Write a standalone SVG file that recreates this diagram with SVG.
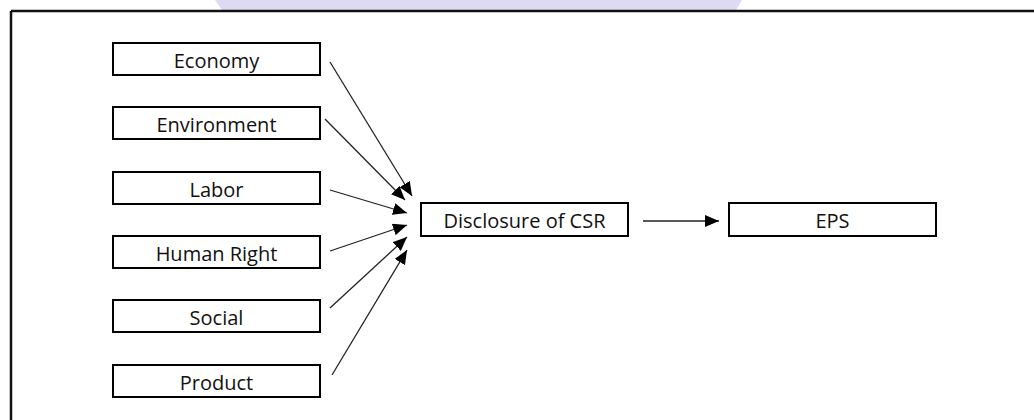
<svg xmlns="http://www.w3.org/2000/svg" width="1034" height="420" viewBox="0 0 1034 420">
<style>
.box{fill:#fff;stroke:#000;stroke-width:2}
.lbl{font-family:"Open Sans","Liberation Sans",sans-serif;font-size:20px;fill:#111;text-anchor:middle}
.conn{stroke:#222;stroke-width:1.3;fill:none}
</style>
<defs>
<marker id="ah" markerUnits="userSpaceOnUse" markerWidth="15" markerHeight="12" refX="14" refY="6" orient="auto">
<path d="M0,0 L14,6 L0,12 Z" fill="#000"/>
</marker>
</defs>
<rect width="1034" height="420" fill="#fff"/>
<g id="watermark">
<polygon points="215,0 742,0 736,10 222,10" fill="#dedaf3"/>
</g>
<g id="frame">
<line x1="11" y1="11" x2="1034" y2="11" stroke="#111" stroke-width="2.5"/>
<line x1="11" y1="11" x2="11" y2="420" stroke="#111" stroke-width="2.5"/>
</g>
<g id="connectors">
<line class="conn" x1="330" y1="62" x2="412" y2="196" marker-end="url(#ah)"/>
<line class="conn" x1="325" y1="119" x2="405" y2="200" marker-end="url(#ah)"/>
<line class="conn" x1="330" y1="190" x2="407" y2="213" marker-end="url(#ah)"/>
<line class="conn" x1="330" y1="251" x2="407" y2="225" marker-end="url(#ah)"/>
<line class="conn" x1="330" y1="308" x2="407" y2="237" marker-end="url(#ah)"/>
<line class="conn" x1="332" y1="375" x2="407" y2="250" marker-end="url(#ah)"/>
<line class="conn" x1="643" y1="221" x2="719" y2="221" marker-end="url(#ah)"/>
</g>
<g id="economy"><rect class="box" x="113" y="43" width="207" height="32"/><text class="lbl" x="216.5" y="68">Economy</text></g>
<g id="environment"><rect class="box" x="113" y="107" width="207" height="32"/><text class="lbl" x="216.5" y="132">Environment</text></g>
<g id="labor"><rect class="box" x="113" y="172" width="207" height="32"/><text class="lbl" x="216.5" y="197">Labor</text></g>
<g id="human-right"><rect class="box" x="113" y="236" width="207" height="32"/><text class="lbl" x="216.5" y="261">Human Right</text></g>
<g id="social"><rect class="box" x="113" y="300" width="207" height="32"/><text class="lbl" x="216.5" y="325">Social</text></g>
<g id="product"><rect class="box" x="113" y="365" width="207" height="32"/><text class="lbl" x="216.5" y="390">Product</text></g>
<g id="csr"><rect class="box" x="421" y="203" width="207" height="33"/><text class="lbl" x="524.5" y="228">Disclosure of CSR</text></g>
<g id="eps"><rect class="box" x="729" y="203" width="207" height="33"/><text class="lbl" x="832.5" y="228">EPS</text></g>
</svg>
